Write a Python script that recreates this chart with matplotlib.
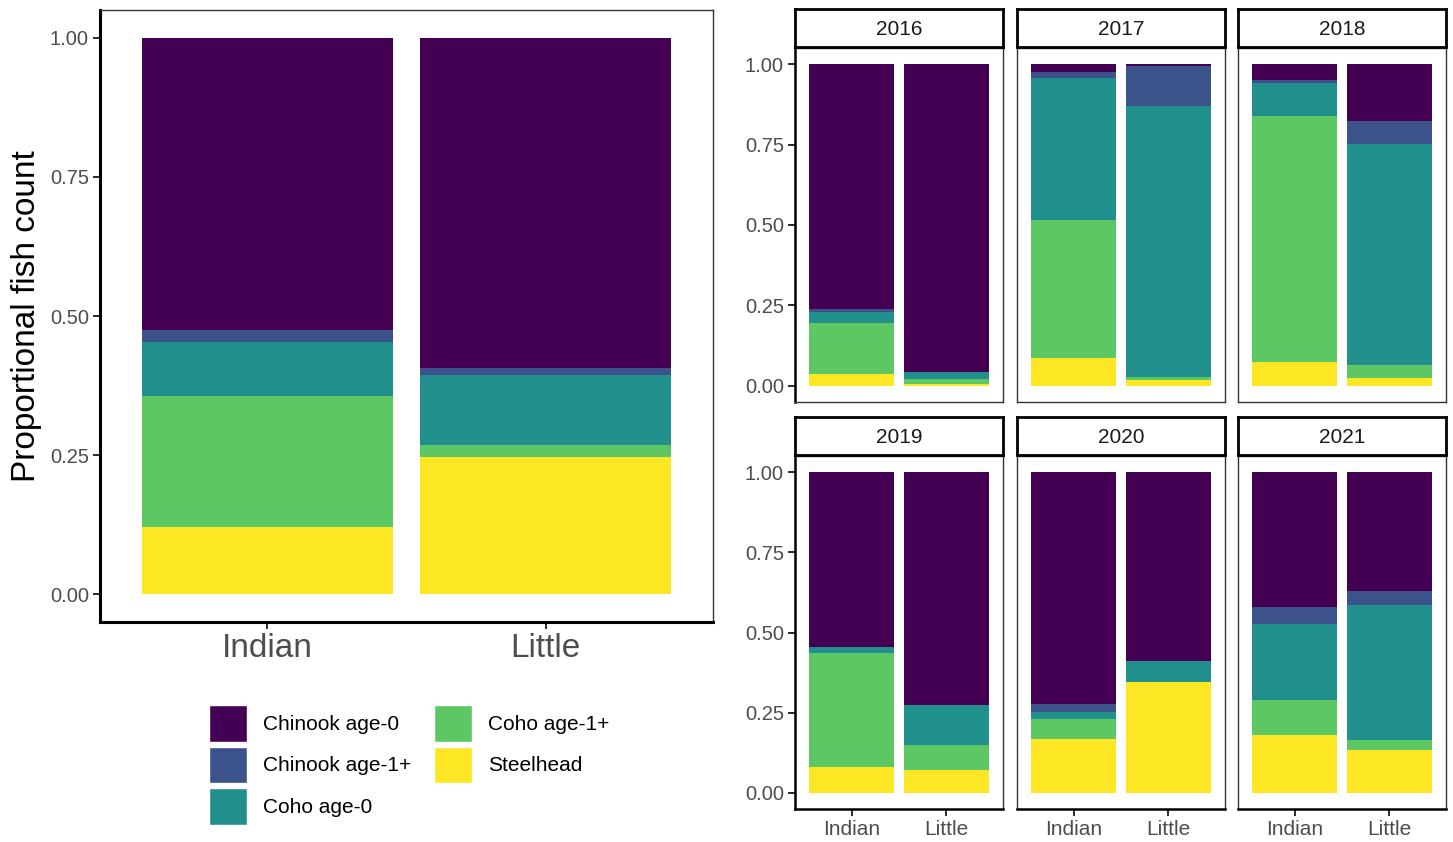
import numpy as np
import matplotlib.pyplot as plt
from matplotlib.patches import Patch

plt.rcParams['font.family'] = ['Liberation Sans', 'DejaVu Sans']

sites = ['Indian', 'Little']
groups = ['Chinook age-0', 'Chinook age-1+', 'Coho age-0', 'Coho age-1+', 'Steelhead']
colors = ['#440154', '#3B528B', '#21908C', '#5DC863', '#FDE725']

# overall proportions, [Indian, Little]
total_steelhead = [0.121, 0.247]
total_coho1 = [0.236, 0.021]
total_coho0 = [0.097, 0.126]
total_chin1 = [0.021, 0.013]
total_chin0 = [0.525, 0.593]

years = ['2016', '2017', '2018', '2019', '2020', '2021']
# per-year proportions, each entry is [Indian, Little]
yr_steelhead = [[0.038, 0.007], [0.088, 0.019], [0.073, 0.026],
                [0.081, 0.070], [0.169, 0.345], [0.180, 0.135]]
yr_coho1 = [[0.156, 0.014], [0.429, 0.008], [0.766, 0.038],
            [0.354, 0.079], [0.063, 0.000], [0.111, 0.029]]
yr_coho0 = [[0.035, 0.021], [0.441, 0.844], [0.102, 0.687],
            [0.020, 0.124], [0.020, 0.067], [0.237, 0.421]]
yr_chin1 = [[0.010, 0.000], [0.017, 0.123], [0.010, 0.071],
            [0.000, 0.000], [0.026, 0.000], [0.050, 0.045]]
yr_chin0 = [[0.761, 0.958], [0.025, 0.006], [0.049, 0.178],
            [0.545, 0.727], [0.722, 0.588], [0.422, 0.370]]

dark = '#1A1A1A'
tickc = '#4D4D4D'


def stacked(ax, layers, xsize, ysize, bottom_line=2.2):
    x = np.arange(1, len(sites) + 1)
    base = np.zeros(len(sites))
    # stack bottom to top: Steelhead ... Chinook age-0
    for vals, col in zip(layers, colors[::-1]):
        ax.bar(x, vals, width=0.9, bottom=base, color=col, linewidth=0)
        base = base + np.array(vals)
    ax.set_xlim(0.4, 2.6)
    ax.set_ylim(-0.05, 1.05)
    ax.set_xticks(x)
    ax.set_xticklabels(sites, fontsize=xsize, color=tickc)
    ax.set_yticks([0, 0.25, 0.5, 0.75, 1.0])
    ax.set_yticklabels(['0.00', '0.25', '0.50', '0.75', '1.00'], fontsize=ysize, color=tickc)
    ax.tick_params(length=5, width=1.3, color=dark, pad=3)
    for s in ['top', 'right']:
        ax.spines[s].set_linewidth(1.0)
        ax.spines[s].set_color('#333333')
    for s in ['left', 'bottom']:
        ax.spines[s].set_linewidth(bottom_line)
        ax.spines[s].set_color('black')


fig = plt.figure(figsize=(14.53, 8.42), dpi=100)
W, H = 1453, 842


def fax(x0, y0, x1, y1):
    return fig.add_axes([x0 / W, 1 - y1 / H, (x1 - x0) / W, (y1 - y0) / H])


# left overall panel
ax = fax(100, 10, 713, 622)
stacked(ax, [total_steelhead, total_coho1, total_coho0, total_chin1, total_chin0], 24, 14.5)
ax.set_ylabel('Proportional fish count', fontsize=24, color='black', labelpad=6)

# year facets
col_x = [795, 1017, 1238]
row_y = [(9, 48, 402), (417, 456, 809)]
pw = 208
for i, yr in enumerate(years):
    r, c = divmod(i, 3)
    s_top, p_top, p_bot = row_y[r]
    x0 = col_x[c]
    a = fax(x0, p_top, x0 + pw, p_bot)
    layers = [yr_steelhead[i], yr_coho1[i], yr_coho0[i], yr_chin1[i], yr_chin0[i]]
    stacked(a, layers, 15, 14.5, bottom_line=1.8)
    if c > 0:
        a.set_yticklabels([])
        a.tick_params(axis='y', length=0)
        a.spines['left'].set_linewidth(1.0)
        a.spines['left'].set_color('#333333')
    if r == 0:
        a.set_xticklabels([])
        a.tick_params(axis='x', length=0)
        a.spines['bottom'].set_linewidth(1.0)
        a.spines['bottom'].set_color('#333333')
    # strip
    st = fax(x0, s_top, x0 + pw, p_top - 1)
    st.set_xticks([])
    st.set_yticks([])
    for s in st.spines.values():
        s.set_linewidth(2.0)
        s.set_color('black')
    st.text(0.5, 0.45, yr, ha='center', va='center', fontsize=15, color='#1A1A1A',
            transform=st.transAxes)

handles = [Patch(facecolor=c, edgecolor='white', linewidth=1) for c in colors]
fig.legend(handles, groups, loc='upper left', bbox_to_anchor=(209 / W, 1 - 705 / H),
           ncol=2, frameon=False, fontsize=15, handlelength=1.8, handleheight=2.35,
           handletextpad=0.8, labelspacing=0.22, columnspacing=1.1,
           borderpad=0, borderaxespad=0)

fig.savefig('out.png', dpi=100)
